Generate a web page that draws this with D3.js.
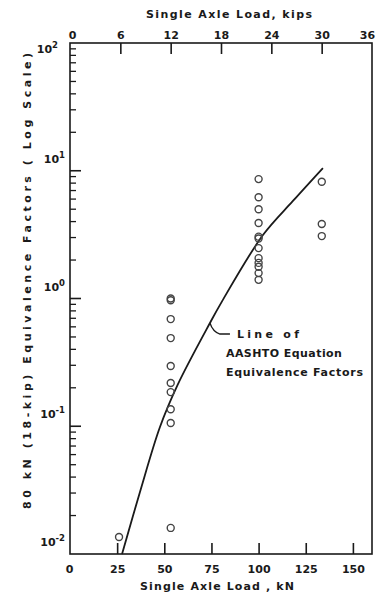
<!DOCTYPE html>
<html><head><meta charset="utf-8">
<script src="https://cdn.jsdelivr.net/npm/d3@7"></script>
<style>
html,body{margin:0;padding:0;background:#fff;}
svg{display:block;}
text{font-family:"DejaVu Sans",sans-serif;fill:#1a1a1a;font-weight:bold;}
</style></head>
<body>
<script>
// ---- data ----
const kNTicks = [0, 25, 50, 75, 100, 125, 150];
const kipTicks = [0, 6, 12, 18, 24, 30, 36];
const decadeExps = [-2, -1, 0, 1, 2];
const obsLoadKN = [26,
  53.4, 53.4, 53.4, 53.4, 53.4, 53.4, 53.4, 53.4, 53.4, 53.4,
  100, 100, 100, 100, 100, 100, 100, 100, 100, 100, 100, 100,
  133.5, 133.5, 133.5];
const obsFactor = [0.0136,
  1.0, 0.97, 0.69, 0.49, 0.296, 0.218, 0.185, 0.136, 0.106, 0.016,
  8.6, 6.2, 5.0, 3.9, 3.05, 2.95, 2.48, 2.07, 1.90, 1.77, 1.58, 1.40,
  8.2, 3.83, 3.08];
const curveLoadKN = [27.6, 37.1, 47.7, 57.0, 74.2, 80.6, 102.3, 118.2, 134.1];
const curveFactor = [0.01, 0.0306, 0.0987, 0.21, 0.643, 0.95, 3.14, 5.8, 10.5];
const annotLoadKN = 74.2, annotFactor = 0.643;
const annotLines = ["Line of", "AASHTO Equation", "Equivalence Factors"];

// ---- layout ----
const W = 376, H = 597;
const L = 70, R = 372, T = 43, B = 554;
const ink = "#1a1a1a";

const svg = d3.select("body").append("svg").attr("width", W).attr("height", H);

const x = d3.scaleLinear().domain([0, 36 * 4.448]).range([L, R]);
const xk = d3.scaleLinear().domain([0, 36]).range([L, R]);
const y = d3.scaleLog().domain([0.01, 100]).range([B, T]);

// frame
svg.append("rect").attr("x", L).attr("y", T).attr("width", R - L).attr("height", B - T)
  .attr("fill", "none").attr("stroke", ink).attr("stroke-width", 1.6);

// bottom axis (kN), ticks inward
const bAxis = d3.axisBottom(x).tickValues(kNTicks).tickSizeInner(-11).tickSizeOuter(0).tickPadding(11);
const gb = svg.append("g").attr("transform", `translate(0,${B})`).call(bAxis);
gb.select(".domain").remove();
gb.selectAll(".tick line").attr("stroke", ink).attr("stroke-width", 1.6)
  .attr("display", d => d === 0 ? "none" : null);
gb.selectAll(".tick text").attr("font-size", 11).attr("fill", ink)
  .attr("font-family", null).attr("dx", d => d === 0 ? -1 : 0);

// top axis (kips), ticks inward
const tAxis = d3.axisTop(xk).tickValues(kipTicks).tickSizeInner(-11).tickSizeOuter(0).tickPadding(4);
const gt = svg.append("g").attr("transform", `translate(0,${T})`).call(tAxis);
gt.select(".domain").remove();
gt.selectAll(".tick line").attr("stroke", ink).attr("stroke-width", 1.6)
  .attr("display", d => (d === 0 || d === 36) ? "none" : null);
gt.selectAll(".tick text").attr("font-size", 11).attr("fill", ink).attr("font-family", null)
  .attr("dx", d => d === 0 ? 2 : (d === 36 ? -5 : 0));

// left axis: log ticks, inward
const minorVals = [];
for (let e = -2; e < 2; e++) for (let m = 2; m <= 9; m++) minorVals.push(m * Math.pow(10, e));
svg.append("g").selectAll("line.minor").data(minorVals).join("line")
  .attr("x1", L).attr("x2", L + 6)
  .attr("y1", d => y(d)).attr("y2", d => y(d))
  .attr("stroke", ink).attr("stroke-width", 1.3);
svg.append("g").selectAll("line.major").data(decadeExps.slice(1, 4)).join("line")
  .attr("x1", L).attr("x2", L + 11)
  .attr("y1", d => y(Math.pow(10, d))).attr("y2", d => y(Math.pow(10, d)))
  .attr("stroke", ink).attr("stroke-width", 1.6);

const yl = svg.append("g").selectAll("text").data(decadeExps).join("text")
  .attr("text-anchor", "end")
  .attr("x", d => d === 2 ? 58 : 65)
  .attr("y", d => y(Math.pow(10, d)) + (d === 2 ? 10 : -8))
  .attr("font-size", 11);
yl.append("tspan").text("10");
yl.append("tspan").attr("dy", -5).attr("font-size", 8.5).text(d => String(d));

// axis titles
svg.append("text").attr("x", 229).attr("y", 18).attr("text-anchor", "middle")
  .attr("font-size", 11).attr("textLength", 166).attr("lengthAdjust", "spacing")
  .text("Single Axle Load, kips");
svg.append("text").attr("x", 217).attr("y", 590).attr("text-anchor", "middle")
  .attr("font-size", 11).attr("textLength", 154).attr("lengthAdjust", "spacing")
  .text("Single Axle Load , kN");
svg.append("text").attr("transform", "translate(31,281) rotate(-90)").attr("text-anchor", "middle")
  .attr("font-size", 11).attr("textLength", 456).attr("lengthAdjust", "spacing")
  .text("80 kN (18-kip) Equivalence Factors ( Log Scale)");

// AASHTO curve
const line = d3.line().x(d => x(d[0])).y(d => y(d[1])).curve(d3.curveCatmullRom.alpha(0.5));
svg.append("path").datum(curveLoadKN.map((k, i) => [k, curveFactor[i]]))
  .attr("d", line).attr("fill", "none").attr("stroke", ink).attr("stroke-width", 1.8);

// observations
svg.append("g").selectAll("circle").data(obsLoadKN.map((k, i) => [k, obsFactor[i]])).join("circle")
  .attr("cx", d => x(d[0])).attr("cy", d => y(d[1])).attr("r", 3.5)
  .attr("fill", "none").attr("stroke", "#444").attr("stroke-width", 1.4);

// annotation
const ax = x(annotLoadKN), ay = y(annotFactor);
svg.append("path")
  .attr("d", `M${ax},${ay} Q${ax + 3},${ay + 9} ${ax + 10},${ay + 11} L${ax + 20},${ay + 11}`)
  .attr("fill", "none").attr("stroke", ink).attr("stroke-width", 1.3);
svg.append("g").selectAll("text").data(annotLines).join("text")
  .attr("x", (d, i) => i === 0 ? ax + 27 : ax + 16)
  .attr("y", (d, i) => ay + 15 + i * 19)
  .attr("font-size", 11)
  .attr("textLength", (d, i) => [62, 116, 137][i]).attr("lengthAdjust", "spacing")
  .text(d => d);
</script>
</body></html>
